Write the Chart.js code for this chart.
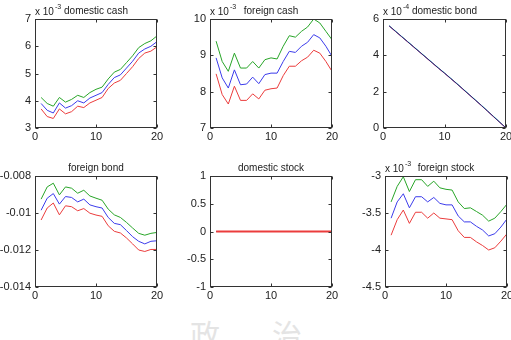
<!DOCTYPE html>
<html lang="en">
<head>
  <meta charset="UTF-8">
  <title>portfolio weights</title>
  <script src="https://cdn.jsdelivr.net/npm/chart.js"></script>
  <style>
    html, body { margin: 0; padding: 0; background: #fff; overflow: hidden; }
    body { width: 511px; height: 340px; position: relative; font-family: "Liberation Sans", Arial, sans-serif; }
    .panel { position: absolute; }
    .wm { position: absolute; color: #e4e4e4; font-family: "Noto Sans CJK TC", sans-serif; font-size: 30px; line-height: 30px; }
  </style>
</head>
<body>
  <div class="wm" style="left:190px; top:318px;">政</div>
  <div class="wm" style="left:272px; top:318px;">治</div>

  <div class="panel" id="p1"><canvas id="c1"></canvas></div>
  <div class="panel" id="p2"><canvas id="c2"></canvas></div>
  <div class="panel" id="p3"><canvas id="c3"></canvas></div>
  <div class="panel" id="p4"><canvas id="c4"></canvas></div>
  <div class="panel" id="p5"><canvas id="c5"></canvas></div>
  <div class="panel" id="p6"><canvas id="c6"></canvas></div>

  <script>
    // horizon steps
    const steps = [1, 2, 3, 4, 5, 6, 7, 8, 9, 10, 11, 12, 13, 14, 15, 16, 17, 18, 19, 20];
    const xTicks = [0, 10, 20];

    // domestic cash (x 10^-3)
    const domCashUp  = [4.12, 3.9, 3.8, 4.12, 3.95, 4.05, 4.2, 4.12, 4.3, 4.42, 4.5, 4.8, 5.05, 5.15, 5.4, 5.65, 5.95, 6.1, 6.2, 6.38];
    const domCashMid = [3.9, 3.65, 3.55, 3.92, 3.73, 3.82, 4.0, 3.92, 4.1, 4.2, 4.3, 4.6, 4.85, 4.95, 5.2, 5.45, 5.75, 5.9, 6.0, 6.17];
    const domCashLow = [3.7, 3.42, 3.35, 3.7, 3.52, 3.6, 3.8, 3.75, 3.92, 4.02, 4.12, 4.45, 4.65, 4.75, 5.0, 5.25, 5.55, 5.75, 5.82, 5.98];
    const domCashTicks = [3, 4, 5, 6, 7];

    // foreign cash (x 10^-3)
    const forCashUp  = [9.39, 8.83, 8.56, 9.06, 8.65, 8.65, 8.83, 8.65, 8.88, 8.93, 8.9, 9.25, 9.54, 9.5, 9.66, 9.78, 10.0, 9.89, 9.66, 9.43];
    const forCashMid = [8.93, 8.38, 8.1, 8.6, 8.19, 8.21, 8.4, 8.22, 8.47, 8.51, 8.51, 8.83, 9.11, 9.08, 9.25, 9.36, 9.57, 9.48, 9.25, 8.97];
    const forCashLow = [8.49, 7.92, 7.66, 8.15, 7.76, 7.76, 7.94, 7.8, 8.04, 8.08, 8.1, 8.44, 8.7, 8.7, 8.85, 8.95, 9.14, 9.06, 8.83, 8.56];
    const forCashTicks = [7, 8, 9, 10];

    // domestic bond (x 10^-4)
    const domBondUp  = [5.63, 5.34, 5.05, 4.76, 4.47, 4.18, 3.89, 3.6, 3.31, 3.03, 2.74, 2.45, 2.15, 1.85, 1.55, 1.25, 0.94, 0.63, 0.32, 0.01];
    const domBondMid = [5.62, 5.33, 5.04, 4.75, 4.46, 4.17, 3.88, 3.59, 3.3, 3.02, 2.73, 2.44, 2.14, 1.84, 1.54, 1.24, 0.93, 0.62, 0.31, 0.0];
    const domBondLow = [5.61, 5.32, 5.03, 4.74, 4.45, 4.16, 3.87, 3.58, 3.29, 3.01, 2.72, 2.43, 2.13, 1.83, 1.53, 1.23, 0.92, 0.61, 0.3, 0.0];
    const domBondTicks = [0, 2, 4, 6];

    // foreign bond
    const forBondUp  = [-0.00925, -0.00859, -0.00839, -0.00902, -0.00859, -0.00866, -0.00893, -0.00877, -0.00908, -0.0092, -0.00931, -0.00979, -0.0101, -0.01024, -0.01051, -0.01081, -0.0111, -0.0112, -0.0111, -0.01105];
    const forBondMid = [-0.00985, -0.0092, -0.00895, -0.00952, -0.00911, -0.00916, -0.0094, -0.00925, -0.00956, -0.00966, -0.00973, -0.01024, -0.01056, -0.01063, -0.01095, -0.01128, -0.01153, -0.01167, -0.01153, -0.0115];
    const forBondLow = [-0.01038, -0.00973, -0.00946, -0.0101, -0.00961, -0.00966, -0.00988, -0.00976, -0.01001, -0.01011, -0.01018, -0.01069, -0.01099, -0.01108, -0.01135, -0.01167, -0.012, -0.01208, -0.01197, -0.01197];
    const forBondTicks = [-0.014, -0.012, -0.01, -0.008];

    // domestic stock
    const domStockUp  = [0, 0, 0, 0, 0, 0, 0, 0, 0, 0, 0, 0, 0, 0, 0, 0, 0, 0, 0, 0];
    const domStockMid = [0, 0, 0, 0, 0, 0, 0, 0, 0, 0, 0, 0, 0, 0, 0, 0, 0, 0, 0, 0];
    const domStockLow = [0, 0, 0, 0, 0, 0, 0, 0, 0, 0, 0, 0, 0, 0, 0, 0, 0, 0, 0, 0];
    const domStockTicks = [-1, -0.5, 0, 0.5, 1];

    // foreign stock (x 10^-3)
    const forStockUp  = [-3.35, -3.14, -3.01, -3.21, -3.05, -3.05, -3.14, -3.07, -3.16, -3.18, -3.19, -3.35, -3.44, -3.43, -3.48, -3.53, -3.61, -3.57, -3.48, -3.38];
    const forStockMid = [-3.57, -3.35, -3.24, -3.43, -3.28, -3.28, -3.35, -3.29, -3.37, -3.39, -3.39, -3.54, -3.62, -3.62, -3.68, -3.73, -3.81, -3.78, -3.69, -3.58];
    const forStockLow = [-3.8, -3.59, -3.46, -3.64, -3.49, -3.49, -3.57, -3.5, -3.57, -3.58, -3.59, -3.74, -3.83, -3.83, -3.89, -3.94, -4.0, -3.97, -3.88, -3.78];
    const forStockTicks = [-4.5, -4, -3.5, -3];

    const GREEN = 'rgb(40,165,40)', BLUE = 'rgb(60,60,235)', RED = 'rgb(235,60,60)';

    // first series in each list is drawn on top
    const panels = [
      { id: 'c1', wrap: 'p1', title: 'domestic cash', exp: '-3', box: [35, 19, 157, 128], ticks: domCashTicks,
        series: [[domCashLow, RED], [domCashMid, BLUE], [domCashUp, GREEN]] },
      { id: 'c2', wrap: 'p2', title: 'foreign cash', exp: '-3', box: [210, 19, 332, 128], ticks: forCashTicks,
        series: [[forCashLow, RED], [forCashMid, BLUE], [forCashUp, GREEN]] },
      { id: 'c3', wrap: 'p3', title: 'domestic bond', exp: '-4', box: [383, 19, 506, 128], ticks: domBondTicks,
        series: [[domBondMid, 'rgb(40,40,110)'], [domBondLow, 'rgb(225,70,150)'], [domBondUp, 'rgb(0,200,200)']] },
      { id: 'c4', wrap: 'p4', title: 'foreign bond', exp: null, box: [35, 176, 157, 287], ticks: forBondTicks,
        series: [[forBondLow, RED], [forBondMid, BLUE], [forBondUp, GREEN]] },
      { id: 'c5', wrap: 'p5', title: 'domestic stock', exp: null, box: [210, 176, 332, 287], ticks: domStockTicks, topWidth: 2,
        series: [[domStockLow, RED], [domStockMid, BLUE], [domStockUp, GREEN]] },
      { id: 'c6', wrap: 'p6', title: 'foreign stock', exp: '-3', box: [385, 176, 507, 287], ticks: forStockTicks,
        series: [[forStockLow, RED], [forStockMid, BLUE], [forStockUp, GREEN]] }
    ];

    const PAD_L = 46, PAD_T = 19, PAD_R = 14, PAD_B = 18;
    const fmt = v => String(+Number(v).toFixed(6));

    // matlab style axes box, inward ticks, title with exponent
    const matlabBox = {
      id: 'matlabBox',
      afterDraw(chart, args, opts) {
        const { ctx, chartArea: a, scales } = chart;
        ctx.save();
        ctx.strokeStyle = '#333';
        ctx.lineWidth = 1;
        const L = Math.round(a.left) + 0.5, R = Math.round(a.right) - 0.5;
        const T = Math.round(a.top) + 0.5, B = Math.round(a.bottom) - 0.5;
        ctx.strokeRect(L, T, R - L, B - T);
        ctx.beginPath();
        scales.x.ticks.forEach(t => {
          const px = Math.round(scales.x.getPixelForValue(t.value)) + 0.5;
          ctx.moveTo(px, B); ctx.lineTo(px, B - 3);
          ctx.moveTo(px, T); ctx.lineTo(px, T + 3);
        });
        scales.y.ticks.forEach(t => {
          const py = Math.round(scales.y.getPixelForValue(t.value)) + 0.5;
          ctx.moveTo(L, py); ctx.lineTo(L + 3, py);
          ctx.moveTo(R, py); ctx.lineTo(R - 3, py);
        });
        ctx.stroke();

        ctx.fillStyle = '#222';
        ctx.textBaseline = 'alphabetic';
        ctx.font = '10px "Liberation Sans", Arial, sans-serif';
        ctx.textAlign = 'center';
        ctx.fillText(opts.title, (a.left + a.right) / 2, a.top - 5);
        if (opts.exp) {
          ctx.textAlign = 'left';
          ctx.fillText('x 10', a.left, a.top - 4);
          const w = ctx.measureText('x 10').width;
          ctx.font = '7px "Liberation Sans", Arial, sans-serif';
          ctx.fillText(opts.exp, a.left + w + 1, a.top - 10);
        }
        ctx.restore();
      }
    };

    panels.forEach(p => {
      const [l, t, r, b] = p.box;
      const wrap = document.getElementById(p.wrap);
      const w = (r - l) + PAD_L + PAD_R, h = (b - t) + PAD_T + PAD_B;
      wrap.style.left = (l - PAD_L) + 'px';
      wrap.style.top = (t - PAD_T) + 'px';
      wrap.style.width = w + 'px';
      wrap.style.height = h + 'px';

      new Chart(document.getElementById(p.id), {
        type: 'line',
        data: {
          datasets: p.series.map(([vals, color], k) => ({
            data: steps.map((s, i) => ({ x: s, y: vals[i] })),
            borderColor: color,
            borderWidth: (k === 0 && p.topWidth) ? p.topWidth : 1,
            pointRadius: 0,
            tension: 0,
            fill: false
          }))
        },
        options: {
          responsive: true,
          maintainAspectRatio: false,
          animation: false,
          devicePixelRatio: 1,
          layout: { padding: { left: 0, top: PAD_T, right: PAD_R, bottom: 0 } },
          plugins: {
            legend: { display: false },
            tooltip: { enabled: false },
            matlabBox: { title: p.title, exp: p.exp }
          },
          scales: {
            x: {
              type: 'linear',
              min: xTicks[0],
              max: xTicks[xTicks.length - 1],
              afterBuildTicks: s => { s.ticks = xTicks.map(v => ({ value: v })); },
              afterFit: s => { s.height = PAD_B; },
              grid: { display: false, drawTicks: false },
              border: { display: false },
              ticks: { padding: 2, color: '#222', maxRotation: 0, autoSkip: false,
                       font: { family: '"Liberation Sans", Arial, sans-serif', size: 11 }, callback: fmt }
            },
            y: {
              type: 'linear',
              min: p.ticks[0],
              max: p.ticks[p.ticks.length - 1],
              afterBuildTicks: s => { s.ticks = p.ticks.map(v => ({ value: v })); },
              afterFit: s => { s.width = PAD_L; },
              grid: { display: false, drawTicks: false },
              border: { display: false },
              ticks: { padding: 4, color: '#222', autoSkip: false,
                       font: { family: '"Liberation Sans", Arial, sans-serif', size: 11 }, callback: fmt }
            }
          }
        },
        plugins: [matlabBox]
      });
    });
  </script>
</body>
</html>
